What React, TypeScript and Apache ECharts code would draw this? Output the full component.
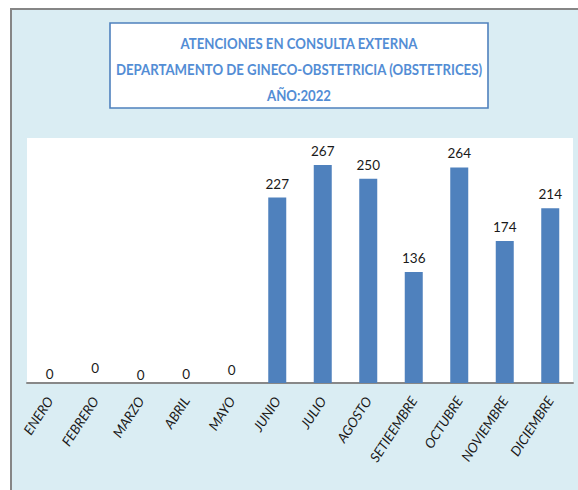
import React, { useEffect, useRef } from "react";
import * as echarts from "echarts";

const months = [
  "ENERO", "FEBRERO", "MARZO", "ABRIL", "MAYO", "JUNIO",
  "JULIO", "AGOSTO", "SETIEEMBRE", "OCTUBRE", "NOVIEMBRE", "DICIEMBRE",
];
const attentions = [0, 0, 0, 0, 0, 227, 267, 250, 136, 264, 174, 214];
const titleLines = [
  "ATENCIONES EN CONSULTA EXTERNA",
  "DEPARTAMENTO DE GINECO-OBSTETRICIA (OBSTETRICES)",
  "AÑO:2022",
];
// small vertical nudges of the zero labels, as in the original picture
const labelNudge = [5, -1, 6, 5, 1, 0, 0, 0, 0, 0, 0, 0];

const FONT = "Lato, 'Open Sans', sans-serif";
const TITLE_Y = [43, 69.5, 95];

export default function App() {
  const ref = useRef<HTMLDivElement>(null);
  useEffect(() => {
    if (!ref.current) return;
    const chart = echarts.init(ref.current, null, { renderer: "svg" });
    chart.setOption({
      animation: false,
      backgroundColor: "#ffffff",
      graphic: [
        {
          type: "rect",
          z: -10,
          shape: { x: 11, y: 9, width: 600, height: 500 },
          style: { fill: "#daedf3", stroke: "#868686", lineWidth: 2 },
        },
        {
          type: "rect",
          z: -5,
          shape: { x: 110, y: 23, width: 378, height: 85 },
          style: { fill: "#ffffff", stroke: "#4f81bd", lineWidth: 1.6 },
        },
        ...titleLines.map((t, i) => ({
          type: "text",
          x: 299,
          y: TITLE_Y[i],
          scaleX: 0.825,
          z: 10,
          style: {
            text: t,
            textAlign: "center",
            textVerticalAlign: "middle",
            fontFamily: FONT,
            fontSize: 16,
            fontWeight: "bold",
            fill: "#538dd5",
          },
        })),
      ],
      grid: {
        left: 27,
        top: 138,
        width: 546,
        height: 245,
        show: true,
        backgroundColor: "#ffffff",
        borderWidth: 0,
      },
      xAxis: {
        type: "category",
        data: months,
        axisLine: { lineStyle: { color: "#888888", width: 2 } },
        axisTick: { show: false },
        axisLabel: {
          rotate: 57,
          interval: 0,
          margin: 15,
          fontFamily: FONT,
          fontStyle: "italic",
          fontSize: 13.5,
          color: "#1a1a1a",
        },
      },
      yAxis: {
        type: "value",
        min: 0,
        max: 300,
        show: false,
        splitLine: { show: false },
      },
      series: [
        {
          type: "bar",
          barWidth: 18,
          data: attentions.map((v, i) => ({
            value: v,
            label: { offset: [0, labelNudge[i]] },
          })),
          itemStyle: { color: "#4f81bd" },
          label: {
            show: true,
            position: "top",
            distance: 7,
            fontFamily: FONT,
            fontSize: 13.5,
            color: "#1a1a1a",
          },
        },
      ],
    });
    return () => chart.dispose();
  }, []);
  return (
    <div
      ref={ref}
      style={{ position: "fixed", left: 0, top: 0, width: 578, height: 490 }}
    />
  );
}
